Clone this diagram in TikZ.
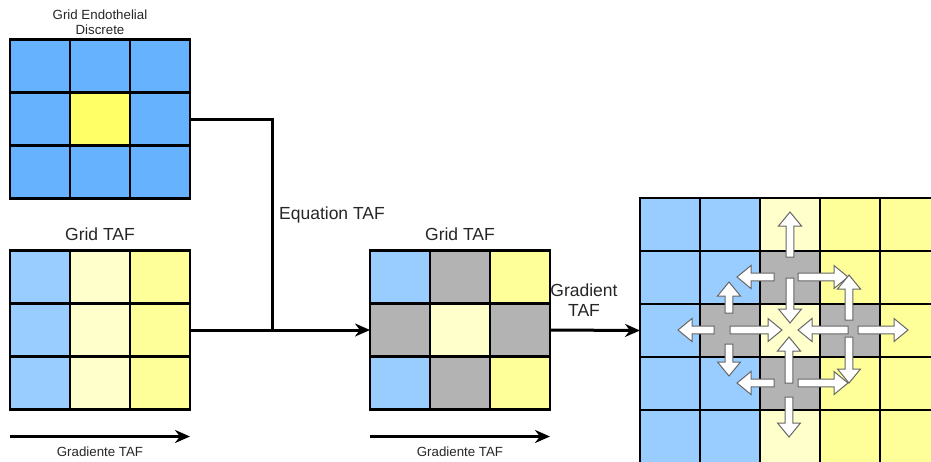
\documentclass[tikz,border=0pt]{standalone}
\usepackage{fontspec}
\setmainfont{Liberation Sans}
\usepackage{tikz}
\usetikzlibrary{arrows.meta,positioning,calc}
\definecolor{endoblue}{HTML}{66B2FF}
\definecolor{tipyellow}{HTML}{FFFF66}
\definecolor{tafblue}{HTML}{99CCFF}
\definecolor{tafpale}{HTML}{FFFFCC}
\definecolor{tafyellow}{HTML}{FFFF99}
\definecolor{tafgray}{HTML}{B3B3B3}
\tikzset{
  >={Stealth[length=15pt,width=13pt]},
  % grids
  cell/.style={draw=black,line width=2.4pt,minimum width=60pt,minimum height=53pt,
               inner sep=0pt,outer sep=0pt},
  % links and labels
  link/.style={draw=black,line width=3pt},
  lab/.style={font=\fontsize{17.5}{20}\selectfont,text=black!85,inner sep=0pt},
  slab/.style={font=\fontsize{13.3}{14.6}\selectfont,text=black!85,inner sep=0pt},
  blockarrow/.style={fill=white,draw=black!60,line width=1pt,line join=miter},
}
% white block arrow from #1 to #2
\newcommand\blockarr[2]{%
  \coordinate (ba) at (#1);
  \coordinate (bb) at (#2);
  \coordinate (bh) at ($(bb)!14pt!(ba)$);
  \draw[blockarrow] ($(ba)!3.8pt!90:(bb)$) -- ($(bh)!3.8pt!90:(bb)$)
    -- ($(bh)!11.5pt!90:(bb)$) -- (bb) -- ($(bh)!11.5pt!-90:(bb)$)
    -- ($(bh)!3.8pt!-90:(bb)$) -- ($(ba)!3.8pt!-90:(bb)$) -- cycle;
}

\begin{document}
\begin{tikzpicture}[x=1pt,y=-1pt]
  \useasboundingbox (0,0) rectangle (931,461);
  \clip (0,0) rectangle (931,461);
  % endothelial grid
  \foreach \r/\row in {1/{endoblue,endoblue,endoblue},2/{endoblue,tipyellow,endoblue},
                       3/{endoblue,endoblue,endoblue}}
    \foreach \f [count=\c] in \row
      \node[cell,fill=\f] (e-\r-\c) at ({60*\c-20},{53*\r+13}) {};
  % TAF grid
  \foreach \r in {1,2,3}
    \foreach \f [count=\c] in {tafblue,tafpale,tafyellow}
      \node[cell,fill=\f] (t-\r-\c) at ({60*\c-20},{53*\r+224}) {};
  % TAF grid with neighbours
  \foreach \r/\row in {1/{tafblue,tafgray,tafyellow},2/{tafgray,tafpale,tafgray},
                       3/{tafblue,tafgray,tafyellow}}
    \foreach \f [count=\c] in \row
      \node[cell,fill=\f] (g-\r-\c) at ({60*\c+340},{53*\r+224}) {};
  % large grid
  \foreach \r/\row in {1/{tafblue,tafblue,tafpale,tafyellow,tafyellow,tafyellow},
                       2/{tafblue,tafblue,tafgray,tafyellow,tafyellow,tafyellow},
                       3/{tafblue,tafgray,tafpale,tafgray,tafyellow,tafyellow},
                       4/{tafblue,tafblue,tafgray,tafyellow,tafyellow,tafyellow},
                       5/{tafblue,tafblue,tafpale,tafyellow,tafyellow,tafyellow},
                       6/{tafblue,tafblue,tafpale,tafyellow,tafyellow,tafyellow}}
    \foreach \f [count=\c] in \row
      \node[cell,fill=\f] (r-\r-\c) at ({60*\c+610},{53*\r+171.5}) {};

  \node[slab,align=center] (elab) at (100,22) {Grid Endothelial\\Discrete};
  \node[lab,anchor=base] (tlab) at (100,240) {Grid TAF};
  \node[lab,anchor=base] (glab) at (460,240) {Grid TAF};
  \node[lab,anchor=base] (eqlab) at (332,219.5) {Equation TAF};
  \node[lab,align=center] (gradlab) at (584,300.5) {Gradient\\TAF};
  \node[slab,anchor=base] (tgrad) at (100,456) {Gradiente TAF};
  \node[slab,anchor=base] (ggrad) at (460,456) {Gradiente TAF};

  \coordinate (eqjoin) at (272,330);
  \draw[link] (e-2-3.east) -| (eqjoin);
  \draw[link,->] (t-2-3.east) -- (g-2-1.west);
  \draw[link,->] (g-2-3.east) -- (r-3-1.west);
  \draw[link,->] ([yshift=-27pt]t-3-1.south west) -- ([yshift=-27pt]t-3-3.south east);
  \draw[link,->] ([yshift=-27pt]g-3-1.south west) -- ([yshift=-27pt]g-3-3.south east);

  % gradient arrows
  \foreach \xa/\ya/\xb/\yb in {790/257/790/212, 790/278/790/323, 774/277/737/277, 798/277/848/277,
                               789/383/789/337, 789/397/789/437, 774/383/737/383, 798/383/848/383,
                               729/313/729/282, 729/344/729/376, 714/330/678/330, 730/330/782/330,
                               849/320/849/275, 849/337/849/383, 848/330/798/330, 858/330/908/330}
    \blockarr{\xa,\ya}{\xb,\yb};
\end{tikzpicture}
\end{document}
